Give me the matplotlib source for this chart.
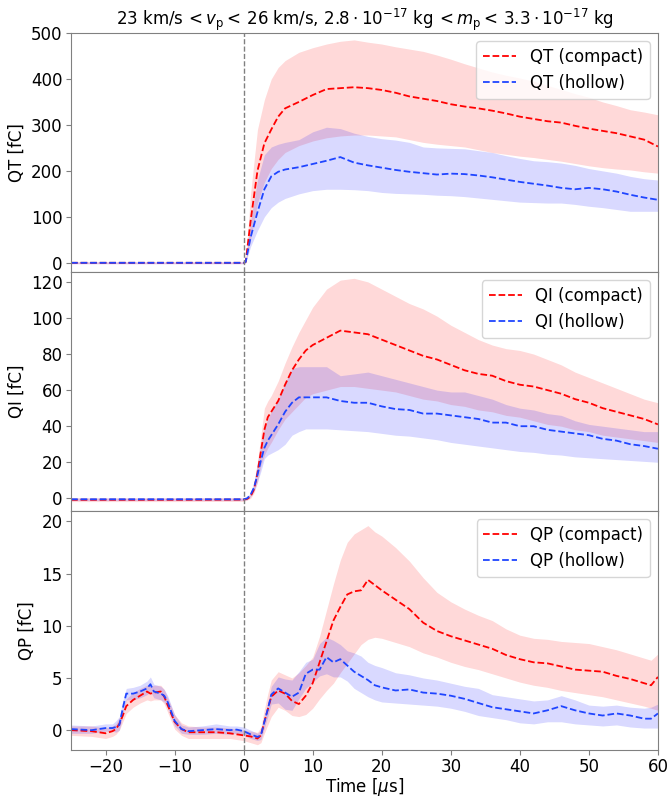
import matplotlib.pyplot as plt
import numpy as np

# --- QT panel -------------------------------------------------------------
t_qt = [-25, 0, 0.3, 1, 2, 3, 4, 5, 6, 8, 10, 12, 14, 16, 18, 20, 22, 24, 26, 28,
        30, 32, 34, 36, 38, 40, 42, 44, 46, 48, 50, 52, 54, 56, 58, 60]
qt_c_mean = [0, 0, 2, 90, 200, 260, 290, 318, 336, 350, 365, 378, 380, 382, 380, 376, 370, 362, 357, 352,
             345, 340, 336, 331, 325, 318, 313, 308, 305, 298, 292, 287, 282, 275, 268, 253]
qt_c_hi = [2, 2, 5, 150, 290, 355, 400, 425, 440, 458, 468, 476, 482, 485, 480, 476, 470, 465, 460, 452,
           443, 433, 424, 415, 408, 402, 395, 386, 377, 368, 360, 350, 342, 333, 328, 322]
qt_c_lo = [-2, -2, 0, 50, 130, 175, 205, 225, 240, 255, 265, 272, 276, 278, 278, 276, 274, 268, 262, 258,
           255, 252, 246, 240, 236, 232, 229, 225, 221, 216, 211, 207, 204, 202, 198, 195]
qt_h_mean = [0, 0, 2, 55, 110, 160, 188, 198, 203, 208, 215, 222, 230, 218, 212, 207, 202, 198, 195, 192,
             194, 193, 190, 186, 181, 176, 172, 168, 163, 160, 163, 160, 155, 148, 142, 137]
qt_h_hi = [2, 2, 4, 90, 180, 235, 252, 258, 262, 268, 285, 295, 292, 282, 275, 270, 267, 262, 252, 250,
           249, 248, 244, 240, 233, 227, 222, 220, 217, 212, 205, 200, 195, 188, 183, 180]
qt_h_lo = [-2, -2, 0, 35, 70, 100, 120, 132, 140, 150, 157, 160, 160, 159, 157, 153, 151, 150, 149, 147,
           146, 144, 141, 138, 135, 132, 131, 130, 130, 127, 123, 120, 116, 112, 112, 112]

# --- QI panel -------------------------------------------------------------
t_qi = [-25, -10, 0, 0.5, 1, 1.5, 2, 2.5, 3, 3.5, 4, 5, 6, 7, 8, 9, 10, 12, 14, 16, 18,
        20, 22, 24, 26, 28, 30, 32, 34, 36, 38, 40, 42, 44, 46, 48, 50, 52, 54, 56, 58, 60]
qi_c_mean = [-0.8, -0.8, -0.7, -0.3, 1, 5, 14, 26, 38, 45, 48, 54, 63, 71, 77, 82, 85, 89, 93, 92, 91,
             88, 85, 82, 79, 77, 74, 71, 69, 68, 65, 63, 62, 60, 58, 55, 53, 50, 48, 46, 44, 41]
qi_c_hi = [0.3, 0.3, 0.3, 0.5, 2, 8, 20, 35, 50, 54, 57, 65, 75, 84, 92, 99, 106, 116, 121, 122, 120,
           116, 112, 108, 105, 101, 96, 92, 88, 85, 83, 82, 80, 77, 74, 70, 67, 64, 61, 58, 55, 53]
qi_c_lo = [-1.8, -1.8, -1.7, -1, 0, 3, 9, 18, 24, 28, 31, 38, 44, 48, 52, 56, 58, 60, 62, 62, 61,
           60, 59, 57, 55, 54, 52, 51, 49, 48, 46, 45, 43, 41, 40, 38, 37, 35, 34, 33, 32, 31]
qi_h_mean = [-0.5, -0.5, -0.5, 0, 2, 6, 13, 21, 28, 32, 35, 41, 48, 53, 56, 56, 56, 56, 54, 53, 53,
             51, 49.5, 49, 47, 47, 46, 45, 44, 42, 42, 40, 40, 38, 37, 36, 35, 33, 32, 30, 29, 27.5]
qi_h_hi = [0.2, 0.2, 0.2, 1, 3, 9, 20, 30, 39, 44, 48, 55, 64, 72, 73, 73, 73, 73, 68, 69, 70,
           68, 66, 64, 62, 60, 59, 59, 57, 55, 52, 50, 49, 47, 46, 43, 41, 40, 39, 38, 37, 37]
qi_h_lo = [-1.2, -1.2, -1.2, -0.8, 1, 4, 9, 15, 22, 24, 25, 27, 30, 35, 37, 38.5, 38.5, 38.5, 38, 37.5, 37,
           36, 35, 34.5, 33.5, 32.5, 31, 30, 29, 28, 27, 26, 25.5, 24.5, 24, 23, 22.5, 22, 21.5, 21, 20.5, 20]

# --- QP panel -------------------------------------------------------------
t_qp = [-25, -22, -20, -19, -18.5, -18, -17.5, -17, -16, -15, -14, -13.5, -13, -12, -11.5, -11,
        -10, -9, -8, -6, -4, -2, -1, 0, 1, 2, 2.5, 3, 3.5, 4, 5, 6, 7, 8, 9, 10, 11, 12, 13, 14,
        15, 16, 17, 18, 19, 20, 22, 24, 26, 28, 30, 32, 34, 36, 38, 40, 42, 44, 46, 48, 50, 52,
        54, 56, 58, 59, 60]
qp_c_mean = [0, -0.1, -0.3, -0.1, 0.1, 0.6, 1.4, 2.3, 2.9, 3.3, 3.7, 3.5, 3.6, 3.7, 3.2, 2.4,
             0.8, 0.1, -0.2, -0.2, -0.2, -0.3, -0.4, -0.5, -0.6, -0.8, -0.5, 0.8, 2.0, 3.2, 3.8, 3.5, 2.8, 2.5, 3.3, 4.5, 6.5, 8.5, 10.5, 11.8,
             13.0, 13.3, 13.4, 14.4, 13.9, 13.4, 12.5, 11.6, 10.3, 9.5, 9.0, 8.6, 8.2, 7.8, 7.2, 6.8, 6.5, 6.4, 6.1, 5.8, 5.7, 5.6,
             5.2, 4.9, 4.5, 4.3, 5.1]
qp_c_hi = [0.4, 0.4, 0.2, 0.4, 0.6, 1.2, 2.0, 3.0, 3.6, 4.0, 4.3, 4.2, 4.3, 4.3, 3.9, 3.1,
           1.5, 0.7, 0.4, 0.3, 0.3, 0.2, 0.1, 0.0, -0.1, -0.2, 0.3, 2.0, 3.5, 4.8, 5.6, 5.3, 5.0, 5.5, 6.2, 7.0, 9.0, 11.5, 14.0, 16.3,
           18.0, 18.8, 19.2, 19.6, 19.0, 18.6, 17.5, 16.2, 14.6, 13.2, 12.3, 11.6, 11.0, 10.5, 9.7, 9.1, 8.8, 8.7, 8.5, 8.4, 8.3, 8.0,
           7.7, 7.3, 6.9, 6.7, 7.3]
qp_c_lo = [-0.5, -0.6, -0.8, -0.6, -0.4, 0.0, 0.8, 1.6, 2.2, 2.6, 2.9, 2.8, 2.9, 2.9, 2.5, 1.7,
           0.1, -0.5, -0.8, -0.8, -0.8, -0.8, -0.9, -1.0, -1.2, -1.4, -1.2, -0.3, 0.5, 1.3, 2.2, 1.9, 1.4, 1.3, 1.5, 2.1, 3.0, 3.8, 4.5, 5.5,
           6.4, 7.3, 8.2, 8.7, 8.9, 8.8, 8.4, 8.0, 7.4, 7.0, 6.5, 6.1, 5.8, 5.4, 5.0, 4.6, 4.3, 4.1, 3.8, 3.6, 3.4, 3.2,
           2.9, 2.6, 2.3, 2.1, 1.9]
qp_h_mean = [0.1, 0.0, 0.2, 0.2, 0.3, 0.5, 2.1, 3.5, 3.5, 3.7, 4.0, 4.4, 3.7, 3.5, 3.3, 2.7,
             0.9, 0.1, -0.1, 0.0, 0.1, 0.0, 0.05, -0.1, -0.4, -0.65, -0.5, 0.8, 2.0, 3.4, 4.0, 3.6, 3.2, 3.6, 5.4, 5.8, 5.8, 7.0, 6.5, 6.8,
             6.2, 5.6, 5.2, 4.8, 4.3, 4.1, 3.8, 3.9, 3.6, 3.5, 3.3, 3.0, 2.6, 2.2, 2.0, 1.8, 1.6, 1.9, 2.3, 1.9, 1.6, 1.4,
             1.6, 1.4, 1.1, 1.1, 1.6]
qp_h_hi = [0.5, 0.4, 0.6, 0.6, 0.9, 1.3, 2.8, 4.0, 4.1, 4.3, 4.7, 5.1, 4.4, 4.2, 3.9, 3.3,
           1.5, 0.5, 0.3, 0.4, 0.6, 0.4, 0.4, 0.3, 0.0, -0.3, 0.0, 1.4, 2.6, 4.2, 5.1, 4.9, 4.8, 5.6, 6.5, 6.8, 8.3, 8.9, 8.6, 8.2,
           7.6, 7.4, 7.1, 6.5, 6.2, 6.0, 5.5, 5.3, 5.0, 4.8, 4.5, 4.2, 4.0, 3.4, 3.2, 3.0, 2.8, 2.9, 3.3, 2.9, 2.4, 2.3,
           2.4, 2.2, 2.1, 2.2, 2.5]
qp_h_lo = [-0.3, -0.3, -0.1, -0.1, -0.2, 0.0, 1.4, 2.9, 2.9, 3.1, 3.4, 3.7, 3.1, 2.9, 2.7, 2.1,
           0.4, -0.3, -0.4, -0.4, -0.3, -0.4, -0.3, -0.5, -0.8, -1.0, -0.9, 0.2, 1.3, 2.5, 2.6, 2.0, 1.9, 3.0, 4.0, 4.6, 5.2, 5.4, 5.1, 5.1,
           4.7, 4.0, 3.6, 3.2, 2.9, 2.7, 2.6, 2.5, 2.4, 2.3, 2.1, 1.8, 1.4, 1.2, 1.0, 0.7, 0.6, 0.8, 0.8, 0.6, 0.5, 0.4,
           0.5, 0.3, 0.2, 0.2, 0.2]

panels = [
    ("QT", t_qt, (qt_c_mean, qt_c_lo, qt_c_hi), (qt_h_mean, qt_h_lo, qt_h_hi), (-20, 500), np.arange(0, 501, 100)),
    ("QI", t_qi, (qi_c_mean, qi_c_lo, qi_c_hi), (qi_h_mean, qi_h_lo, qi_h_hi), (-7, 125.5), np.arange(0, 121, 20)),
    ("QP", t_qp, (qp_c_mean, qp_c_lo, qp_c_hi), (qp_h_mean, qp_h_lo, qp_h_hi), (-1.9, 21), np.arange(0, 21, 5)),
]

plt.rcParams['font.size'] = 12
fig, axes = plt.subplots(3, 1, sharex=True, figsize=(6.7, 7.97), dpi=100)
fig.subplots_adjust(left=0.106, right=0.982, top=0.9586, bottom=0.059, hspace=0)

for ax, (name, t, comp, holl, ylim, yt) in zip(axes, panels):
    t = np.array(t)
    ax.fill_between(t, comp[1], comp[2], color='red', alpha=0.15, lw=0)
    ax.fill_between(t, holl[1], holl[2], color='blue', alpha=0.15, lw=0)
    ax.plot(t, comp[0], '--', color='red', lw=1.3, label=name + ' (compact)')
    ax.plot(t, holl[0], '--', color='#1f45ff', lw=1.3, label=name + ' (hollow)')
    ax.axvline(0, color='gray', ls='--', lw=1)
    ax.set_ylim(*ylim)
    ax.set_yticks(yt)
    ax.set_ylabel(name + ' [fC]')
    ax.legend(loc='upper right')
    for s in ax.spines.values():
        s.set_color('gray')
    ax.tick_params(color='gray', pad=2.5)

axes[-1].set_xlim(-25, 60)
axes[-1].set_xticks(np.arange(-20, 61, 10))
axes[-1].set_xlabel(r'Time [$\mu$s]', labelpad=0)
axes[0].set_title(r'23 km/s$\,<v_\mathrm{p}<\,$26 km/s, $2.8\cdot10^{-17}$ kg$\,<m_\mathrm{p}<\,$'
                  r'$3.3\cdot10^{-17}$ kg', fontsize=12)

plt.savefig('out.png')
